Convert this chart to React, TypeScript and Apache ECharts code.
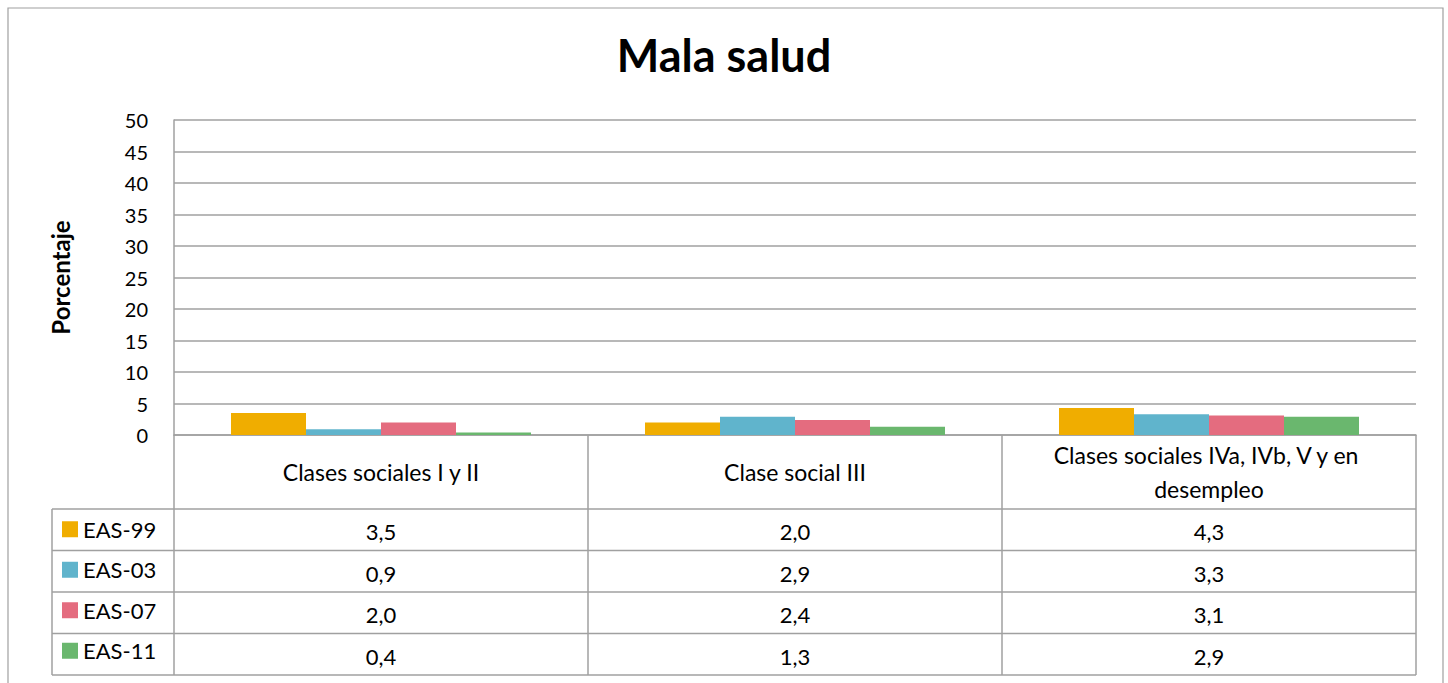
import React, { useEffect, useRef } from "react";
import * as echarts from "echarts";

const titleText = "Mala salud";
const yAxisName = "Porcentaje";
const categories = [
  "Clases sociales I y II",
  "Clase social III",
  "Clases sociales IVa, IVb, V y en desempleo",
];
const seriesNames = ["EAS-99", "EAS-03", "EAS-07", "EAS-11"];
const eas99 = [3.5, 2.0, 4.3];
const eas03 = [0.9, 2.9, 3.3];
const eas07 = [2.0, 2.4, 3.1];
const eas11 = [0.4, 1.3, 2.9];
const seriesValues = [eas99, eas03, eas07, eas11];
const colors = ["#F0AD00", "#60B4CC", "#E46C7F", "#6AB76E"];
const yMin = 0;
const yMax = 50;
const yInterval = 5;

const FONT = "Lato, 'Open Sans', sans-serif";
const LINE = "#A0A0A0";

export default function App() {
  const ref = useRef<HTMLDivElement>(null);
  useEffect(() => {
    if (!ref.current) return;
    const chart = echarts.init(ref.current, null, { renderer: "svg" });
    const W = 1448;
    const gridLeft = 174;
    const gridRight = 1416;
    const gridTop = 120;
    const gridBottom = 435;
    const headerBottom = 509;
    const rowH = 41.5;
    const legendLeft = 52;
    const legendItemH = 23;

    const option: any = {
      animation: false,
      textStyle: { fontFamily: FONT },
      color: colors,
      title: {
        text: titleText,
        left: "center",
        top: 27,
        textStyle: { fontSize: 45, fontWeight: "bold", color: "#000", fontFamily: FONT },
      },
      legend: {
        orient: "vertical",
        left: 62,
        top: headerBottom + (rowH - legendItemH) / 2,
        height: 200,
        padding: 0,
        itemWidth: 16,
        itemHeight: 16,
        itemGap: rowH - legendItemH,
        icon: "rect",
        textStyle: { fontSize: 22, color: "#000", fontFamily: FONT },
        data: seriesNames,
        selectedMode: false,
      },
      grid: {
        left: gridLeft,
        right: W - gridRight,
        top: gridTop,
        bottom: 683 - gridBottom,
        containLabel: false,
      },
      xAxis: {
        type: "category",
        data: categories,
        axisLine: { show: true, lineStyle: { color: LINE, width: 1.5 } },
        axisTick: { show: false },
        axisLabel: {
          interval: 0,
          margin: (headerBottom - gridBottom) / 2,
          verticalAlign: "middle",
          width: 380,
          overflow: "break",
          lineHeight: 34,
          fontSize: 23,
          color: "#000",
          fontFamily: FONT,
        },
      },
      yAxis: {
        type: "value",
        min: yMin,
        max: yMax,
        interval: yInterval,
        name: yAxisName,
        nameLocation: "middle",
        nameRotate: 90,
        nameGap: 102,
        nameTextStyle: { fontSize: 24, fontWeight: "bold", color: "#000", fontFamily: FONT },
        axisLine: { show: true, lineStyle: { color: LINE, width: 1.5 } },
        axisTick: { show: false },
        axisLabel: { fontSize: 20, color: "#000", margin: 26, fontFamily: FONT },
        splitLine: { show: true, lineStyle: { color: LINE, width: 1.5 } },
      },
      series: seriesNames.map((name, i) => ({
        name,
        type: "bar",
        data: seriesValues[i],
        barWidth: 75,
        barGap: "0%",
        itemStyle: { color: colors[i] },
      })),
    };
    chart.setOption(option);

    // Build the data table below the plot from the axis scale
    const bandW = (gridRight - gridLeft) / categories.length;
    const centers = categories.map((_, i) => chart.convertToPixel({ xAxisIndex: 0 }, i) as number);
    const tableBottom = headerBottom + rowH * seriesNames.length;
    const els: any[] = [];
    const line = (x1: number, y1: number, x2: number, y2: number) =>
      els.push({
        type: "line",
        silent: true,
        shape: { x1, y1, x2, y2 },
        style: { stroke: LINE, lineWidth: 1.5 },
      });
    // outer border
    els.push({
      type: "rect",
      silent: true,
      shape: { x: 8, y: 8, width: 1435, height: 720 },
      style: { fill: "none", stroke: LINE, lineWidth: 1.2 },
      z: -1,
    });
    // vertical lines
    line(gridLeft, gridBottom, gridLeft, tableBottom);
    centers.forEach((c) => line(c + bandW / 2, gridBottom, c + bandW / 2, tableBottom));
    line(legendLeft, headerBottom, legendLeft, tableBottom);
    // horizontal lines
    for (let r = 0; r <= seriesNames.length; r++) {
      const y = headerBottom + r * rowH;
      line(legendLeft, y, gridRight, y);
    }
    // values
    seriesValues.forEach((vals, r) => {
      vals.forEach((v, c) => {
        els.push({
          type: "text",
          silent: true,
          x: centers[c],
          y: headerBottom + r * rowH + rowH / 2 + 2,
          style: {
            text: v.toFixed(1).replace(".", ","),
            fontSize: 22,
            fontFamily: FONT,
            fill: "#000",
            align: "center",
            verticalAlign: "middle",
          },
        });
      });
    });
    chart.setOption({ graphic: { elements: els } });

    return () => chart.dispose();
  }, []);
  return (
    <div
      ref={ref}
      style={{ position: "fixed", left: 0, top: 0, width: 1448, height: 683, background: "#fff" }}
    />
  );
}
